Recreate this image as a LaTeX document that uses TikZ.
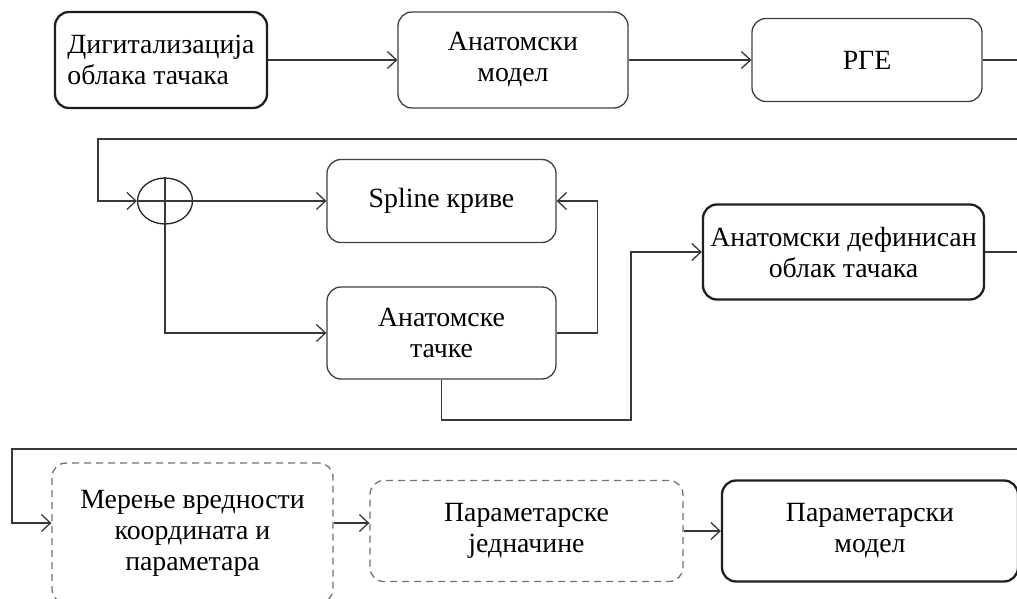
\documentclass[tikz,border=0pt]{standalone}
\usepackage{fontspec}
\setmainfont{Liberation Serif}
\usetikzlibrary{arrows.meta,shapes.geometric}

\begin{document}
\begin{tikzpicture}[x=1pt,y=-1pt,>={Straight Barb[length=9pt,width=17pt]},
    blk/.style={draw=black!75,line width=1.3pt,rounded corners=14pt,inner sep=0pt,
      align=center,font=\fontsize{27.8}{31}\selectfont},
    thickblk/.style={blk,draw=black!88,line width=2.3pt},
    dashblk/.style={blk,draw=black!55,dash pattern=on 7pt off 5pt},
    sumnode/.style={draw=black!85,line width=1.3pt,ellipse,inner sep=0pt,
      minimum width=55pt,minimum height=46pt},
    conn/.style={draw=black!78,line width=1.3pt}]
  \clip (0,0) rectangle (1017,599);
  \fill[white] (0,0) rectangle (1017,599);
  % row 1
  \node[thickblk,minimum width=212pt,minimum height=96pt,align=left] (dig) at (161,60)
    {Дигитализација\\облака тачака};
  \node[blk,minimum width=230pt,minimum height=96pt] (anat) at (513,60) {Анатомски\\модел};
  \node[blk,minimum width=230pt,minimum height=83pt] (rge) at (867,60) {РГЕ};
  \draw[conn,->] (dig) -- (anat);
  \draw[conn,->] (anat) -- (rge);
  % row 2
  \node[sumnode] (sum) at (165,201) {};
  \node[blk,minimum width=229pt,minimum height=83pt] (spline) at (441.5,201) {Spline криве};
  \node[blk,minimum width=229pt,minimum height=92pt] (tacke) at (441.5,333) {Анатомске\\тачке};
  \node[thickblk,minimum width=281pt,minimum height=95pt] (cloud) at (843.5,252)
    {Анатомски дефинисан\\облак тачака};
  \coordinate (out1) at (1040,60);
  \coordinate (back1) at (98,139);
  \coordinate (jog) at (631,420);
  \draw[conn,->] (rge.east) -- (out1) |- (back1) |- (sum.west);
  \draw[conn,->] (sum.west) -- (spline.west);
  \draw[conn,->] (sum.north) -- (sum.south) |- (tacke.west);
  \draw[conn,->] (tacke.east) -- ++(41,0) |- (spline.east);
  \draw[conn,->] (tacke.south) |- (jog) |- (cloud.west);
  % row 3
  \node[dashblk,minimum width=281pt,minimum height=140pt] (meas) at (192.5,533)
    {Мерење вредности\\координата и\\параметара};
  \node[dashblk,minimum width=313pt,minimum height=101pt] (eqs) at (526.5,531)
    {Параметарске\\једначине};
  \node[thickblk,minimum width=296pt,minimum height=101pt] (pmod) at (870,531)
    {Параметарски\\модел};
  \coordinate (out2) at (1040,252);
  \coordinate (back2) at (12,449);
  \draw[conn,->] (cloud.east) -- (out2) |- (back2) |- ([yshift=10pt]meas.west);
  \draw[conn,->] ([yshift=10pt]meas.east) -- ([yshift=10pt]meas.east -| eqs.west);
  \draw[conn,->] (eqs) -- (pmod);
\end{tikzpicture}
\end{document}
